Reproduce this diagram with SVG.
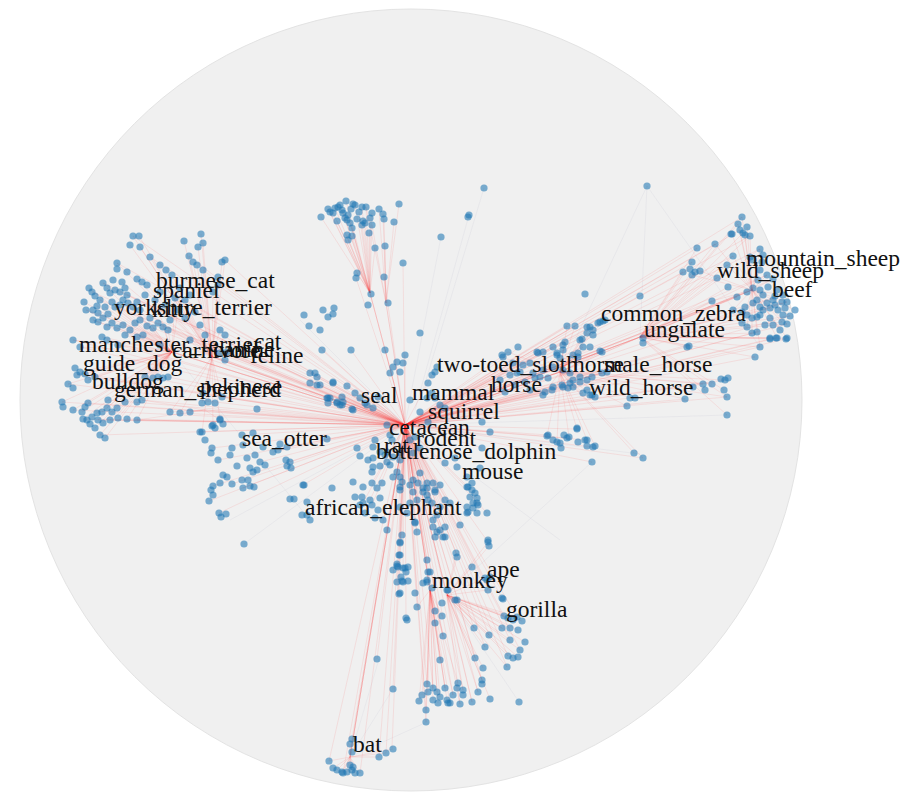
<svg xmlns="http://www.w3.org/2000/svg" width="900" height="800" viewBox="0 0 900 800">
<style>
.disk{fill:#f0f0f0;stroke:#e3e3e3;stroke-width:1}
.er path{stroke:#ff3030;stroke-opacity:.1;stroke-width:1;fill:none}
.eg path{stroke:#b0b0c8;stroke-opacity:.12;stroke-width:1;fill:none}
.pt circle{fill:#1f77b4;fill-opacity:.58;r:3.6px}
.lb text{font-family:"Liberation Serif","Times New Roman",serif;font-size:23.5px;fill:#111}
</style>
<rect width="900" height="800" fill="#ffffff"/>
<circle class="disk" cx="411" cy="400" r="391"/>
<g id="connectors">
<g class="eg">
<path d="M420 400L484 188"/><path d="M415 410L469 215"/><path d="M405 425L441 237"/><path d="M560 372L647 186"/><path d="M647 186L640 337"/><path d="M647 186L760 347"/><path d="M405 425L230 520"/><path d="M405 425L244 544"/><path d="M350 757L427 722"/><path d="M350 757L393 689"/><path d="M350 757L379 659"/><path d="M172 352L310 520"/><path d="M405 425L640 454"/><path d="M405 425L727 415"/><path d="M447 595L519 702"/><path d="M447 595L592 462"/><path d="M405 425L560 540"/><path d="M405 425L300 320"/>
</g>
<g class="er">
<path d="M405 425L172 352"/><path d="M405 425L172 352"/><path d="M405 425L172 352"/><path d="M405 425L172 352"/><path d="M405 425L212 357"/><path d="M405 425L212 357"/><path d="M405 425L212 357"/><path d="M405 425L205 410"/><path d="M405 425L205 410"/>
<path d="M405 425L100 300"/><path d="M405 425L86 310"/><path d="M405 425L120 292"/><path d="M405 425L140 320"/><path d="M405 425L168 330"/><path d="M405 425L73 340"/><path d="M405 425L80 347"/><path d="M405 425L62 402"/><path d="M405 425L83 419"/><path d="M405 425L100 435"/><path d="M405 425L110 420"/><path d="M405 425L137 420"/><path d="M405 425L145 377"/><path d="M405 425L168 377"/><path d="M405 425L95 377"/><path d="M405 425L77 375"/><path d="M405 425L117 263"/><path d="M405 425L150 257"/><path d="M405 425L103 283"/><path d="M405 425L127 295"/><path d="M405 425L93 320"/><path d="M405 425L123 325"/><path d="M405 425L153 328"/><path d="M405 425L107 340"/><path d="M405 425L218 285"/><path d="M405 425L220 330"/><path d="M405 425L225 360"/><path d="M405 425L222 397"/><path d="M405 425L202 432"/><path d="M405 425L133 236"/><path d="M405 425L189 256"/><path d="M405 425L203 270"/><path d="M405 425L225 260"/><path d="M405 425L92 292"/><path d="M405 425L115 307"/><path d="M405 425L137 302"/><path d="M405 425L158 323"/><path d="M405 425L68 384"/><path d="M405 425L88 403"/><path d="M405 425L127 419"/><path d="M405 425L180 413"/><path d="M405 425L73 410"/><path d="M405 425L98 420"/><path d="M405 425L160 292"/><path d="M405 425L185 300"/><path d="M405 425L200 325"/><path d="M405 425L190 340"/><path d="M405 425L118 345"/><path d="M405 425L142 400"/><path d="M405 425L108 400"/><path d="M405 425L85 374"/>
<path d="M172 352L86 310"/><path d="M172 352L93 320"/><path d="M172 352L98 313"/><path d="M172 352L105 307"/><path d="M172 352L112 302"/><path d="M172 352L115 307"/><path d="M172 352L120 305"/><path d="M172 352L128 303"/><path d="M172 352L133 307"/><path d="M172 352L140 310"/><path d="M172 352L100 300"/><path d="M172 352L97 306"/><path d="M172 352L73 340"/><path d="M172 352L80 347"/><path d="M172 352L102 337"/><path d="M172 352L107 340"/><path d="M172 352L77 375"/><path d="M172 352L80 372"/><path d="M172 352L85 374"/><path d="M172 352L88 380"/><path d="M172 352L95 377"/><path d="M172 352L145 377"/><path d="M172 352L153 378"/><path d="M172 352L68 384"/><path d="M172 352L62 402"/><path d="M172 352L73 410"/><path d="M172 352L82 412"/><path d="M172 352L88 403"/><path d="M172 352L83 419"/><path d="M172 352L92 417"/><path d="M172 352L102 412"/><path d="M172 352L107 408"/><path d="M172 352L98 420"/><path d="M172 352L95 428"/><path d="M172 352L103 423"/><path d="M172 352L110 420"/><path d="M172 352L118 418"/><path d="M172 352L127 419"/><path d="M172 352L137 420"/><path d="M172 352L100 435"/><path d="M172 352L105 438"/><path d="M172 352L125 335"/><path d="M172 352L137 337"/><path d="M172 352L143 335"/><path d="M172 352L117 328"/><path d="M172 352L130 330"/><path d="M172 352L153 328"/><path d="M172 352L163 327"/><path d="M172 352L168 330"/><path d="M172 352L89 288"/><path d="M172 352L107 288"/><path d="M172 352L123 300"/><path d="M172 352L155 300"/><path d="M172 352L175 298"/><path d="M172 352L178 310"/><path d="M172 352L84 302"/>
<path d="M212 357L133 236"/><path d="M212 357L139 236"/><path d="M212 357L130 245"/><path d="M212 357L140 247"/><path d="M212 357L184 241"/><path d="M212 357L201 234"/><path d="M212 357L203 243"/><path d="M212 357L198 247"/><path d="M212 357L150 257"/><path d="M212 357L160 265"/><path d="M212 357L166 270"/><path d="M212 357L172 275"/><path d="M212 357L189 256"/><path d="M212 357L193 262"/><path d="M212 357L197 265"/><path d="M212 357L203 270"/><path d="M212 357L222 262"/><path d="M212 357L225 260"/><path d="M212 357L218 277"/><path d="M212 357L218 285"/><path d="M212 357L213 292"/><path d="M212 357L220 330"/><path d="M212 357L225 335"/><path d="M212 357L220 353"/><path d="M212 357L225 360"/><path d="M212 357L227 352"/><path d="M212 357L170 412"/><path d="M212 357L180 413"/><path d="M212 357L202 403"/><path d="M212 357L203 393"/><path d="M212 357L208 402"/><path d="M212 357L220 420"/><path d="M212 357L213 425"/><path d="M212 357L202 432"/><path d="M212 357L222 397"/><path d="M212 357L117 263"/><path d="M212 357L103 283"/><path d="M212 357L122 282"/><path d="M212 357L137 279"/><path d="M212 357L147 285"/>
<path d="M205 410L170 412"/><path d="M205 410L190 412"/><path d="M205 410L142 400"/><path d="M205 410L137 420"/><path d="M205 410L220 420"/>
<path d="M405 425L560 372"/><path d="M405 425L560 372"/><path d="M405 425L560 372"/><path d="M405 425L560 372"/><path d="M405 425L560 372"/><path d="M405 425L640 337"/><path d="M405 425L640 337"/><path d="M405 425L640 337"/><path d="M405 425L640 337"/><path d="M405 425L640 337"/><path d="M405 425L752 290"/><path d="M405 425L752 290"/><path d="M405 425L752 290"/>
<path d="M405 425L567 326"/><path d="M405 425L575 326"/><path d="M405 425L590 327"/><path d="M405 425L603 321"/><path d="M405 425L565 342"/><path d="M405 425L583 347"/><path d="M405 425L602 352"/><path d="M405 425L557 353"/><path d="M405 425L573 355"/><path d="M405 425L553 367"/><path d="M405 425L570 373"/><path d="M405 425L587 380"/><path d="M405 425L563 387"/><path d="M405 425L583 393"/><path d="M405 425L595 397"/><path d="M405 425L607 372"/><path d="M405 425L543 395"/><path d="M405 425L685 399"/><path d="M405 425L703 384"/><path d="M405 425L725 380"/><path d="M405 425L727 397"/><path d="M405 425L689 346"/><path d="M405 425L755 357"/><path d="M405 425L770 339"/><path d="M405 425L786 339"/><path d="M405 425L742 217"/><path d="M405 425L740 230"/><path d="M405 425L750 236"/><path d="M405 425L715 244"/><path d="M405 425L697 248"/><path d="M405 425L733 256"/><path d="M405 425L717 278"/><path d="M405 425L692 262"/><path d="M405 425L683 272"/><path d="M405 425L712 301"/><path d="M405 425L737 297"/><path d="M405 425L760 249"/><path d="M405 425L767 275"/><path d="M405 425L783 295"/><path d="M405 425L787 302"/><path d="M405 425L790 316"/><path d="M405 425L787 324"/><path d="M405 425L757 332"/><path d="M405 425L760 347"/><path d="M405 425L777 338"/><path d="M405 425L538 353"/><path d="M405 425L553 347"/><path d="M405 425L562 385"/><path d="M405 425L580 382"/><path d="M405 425L592 395"/><path d="M405 425L630 398"/><path d="M405 425L627 406"/><path d="M405 425L548 435"/><path d="M405 425L567 438"/><path d="M405 425L593 447"/><path d="M405 425L592 462"/><path d="M405 425L643 458"/><path d="M405 425L577 429"/><path d="M405 425L587 440"/><path d="M405 425L520 347"/><path d="M405 425L508 352"/><path d="M405 425L530 363"/><path d="M405 425L545 392"/>
<path d="M640 337L742 217"/><path d="M640 337L738 224"/><path d="M640 337L743 233"/><path d="M640 337L750 236"/><path d="M640 337L733 256"/><path d="M640 337L727 265"/><path d="M640 337L717 278"/><path d="M640 337L697 248"/><path d="M640 337L715 244"/><path d="M640 337L692 262"/><path d="M640 337L683 272"/><path d="M640 337L700 271"/><path d="M640 337L712 301"/><path d="M640 337L728 287"/><path d="M640 337L737 297"/><path d="M640 337L760 249"/><path d="M640 337L767 275"/><path d="M640 337L773 279"/><path d="M640 337L783 295"/><path d="M640 337L787 302"/><path d="M640 337L790 316"/><path d="M640 337L787 324"/><path d="M640 337L782 322"/><path d="M640 337L770 308"/><path d="M640 337L757 317"/><path d="M640 337L752 333"/><path d="M640 337L760 347"/><path d="M640 337L770 338"/><path d="M640 337L787 338"/><path d="M640 337L755 357"/><path d="M640 337L786 339"/><path d="M640 337L776 338"/><path d="M640 337L689 346"/><path d="M640 337L687 347"/><path d="M640 337L727 397"/><path d="M640 337L727 415"/><path d="M640 337L724 390"/><path d="M640 337L705 390"/><path d="M640 337L752 290"/><path d="M640 337L752 290"/>
<path d="M752 290L742 217"/><path d="M752 290L738 224"/><path d="M752 290L740 230"/><path d="M752 290L747 227"/><path d="M752 290L750 236"/><path d="M752 290L745 235"/><path d="M752 290L732 234"/><path d="M752 290L715 244"/><path d="M752 290L733 256"/><path d="M752 290L727 265"/><path d="M752 290L760 249"/><path d="M752 290L762 262"/><path d="M752 290L760 270"/><path d="M752 290L767 275"/><path d="M752 290L773 279"/><path d="M752 290L783 295"/><path d="M752 290L787 302"/><path d="M752 290L790 316"/><path d="M752 290L787 324"/><path d="M752 290L782 322"/><path d="M752 290L777 338"/><path d="M752 290L787 338"/><path d="M752 290L760 347"/><path d="M752 290L742 323"/><path d="M752 290L747 327"/><path d="M752 290L752 333"/><path d="M752 290L757 332"/><path d="M752 290L733 310"/><path d="M752 290L712 301"/><path d="M752 290L700 271"/><path d="M752 290L692 275"/><path d="M752 290L795 310"/><path d="M752 290L780 330"/>
<path d="M560 372L567 326"/><path d="M560 372L575 326"/><path d="M560 372L590 327"/><path d="M560 372L593 330"/><path d="M560 372L598 323"/><path d="M560 372L603 321"/><path d="M560 372L587 333"/><path d="M560 372L580 340"/><path d="M560 372L565 342"/><path d="M560 372L583 347"/><path d="M560 372L602 352"/><path d="M560 372L557 353"/><path d="M560 372L573 355"/><path d="M560 372L553 367"/><path d="M560 372L570 373"/><path d="M560 372L573 380"/><path d="M560 372L580 377"/><path d="M560 372L592 377"/><path d="M560 372L563 387"/><path d="M560 372L568 388"/><path d="M560 372L583 393"/><path d="M560 372L595 397"/><path d="M560 372L602 373"/><path d="M560 372L607 372"/><path d="M560 372L543 395"/><path d="M560 372L630 398"/><path d="M560 372L627 406"/><path d="M560 372L685 399"/><path d="M560 372L703 384"/><path d="M560 372L712 384"/><path d="M560 372L725 380"/><path d="M560 372L727 397"/><path d="M560 372L577 429"/><path d="M560 372L547 436"/><path d="M560 372L557 442"/><path d="M560 372L569 437"/><path d="M560 372L587 440"/><path d="M560 372L595 446"/><path d="M560 372L634 453"/><path d="M560 372L643 458"/><path d="M560 372L508 352"/><path d="M560 372L503 358"/><path d="M560 372L537 352"/><path d="M560 372L563 350"/><path d="M560 372L578 353"/><path d="M560 372L600 351"/><path d="M560 372L640 337"/><path d="M560 372L640 337"/>
<path d="M405 425L370 293"/><path d="M405 425L370 293"/><path d="M405 425L370 293"/><path d="M405 425L386 303"/><path d="M405 425L386 303"/><path d="M405 425L403 263"/><path d="M405 425L384 277"/><path d="M405 425L356 278"/>
<path d="M370 293L321 217"/><path d="M370 293L330 212"/><path d="M370 293L335 208"/><path d="M370 293L340 205"/><path d="M370 293L343 213"/><path d="M370 293L346 201"/><path d="M370 293L348 215"/><path d="M370 293L350 223"/><path d="M370 293L352 228"/><path d="M370 293L347 235"/><path d="M370 293L352 236"/><path d="M370 293L355 205"/><path d="M370 293L359 212"/><path d="M370 293L362 207"/><path d="M370 293L366 207"/><path d="M370 293L337 221"/><path d="M370 293L362 225"/><path d="M370 293L365 223"/><path d="M370 293L370 218"/><path d="M370 293L372 213"/><path d="M370 293L369 233"/><path d="M370 293L375 248"/><path d="M370 293L357 273"/><path d="M370 293L348 240"/><path d="M370 293L328 209"/><path d="M370 293L333 213"/>
<path d="M386 303L379 209"/><path d="M386 303L383 214"/><path d="M386 303L384 219"/><path d="M386 303L385 246"/><path d="M386 303L394 222"/><path d="M386 303L399 204"/><path d="M386 303L372 225"/><path d="M386 303L366 207"/>
<path d="M405 425L430 590"/><path d="M405 425L430 590"/><path d="M405 425L430 590"/><path d="M405 425L447 595"/><path d="M405 425L447 595"/><path d="M405 425L447 595"/><path d="M405 425L350 757"/><path d="M405 425L350 757"/><path d="M405 425L350 757"/><path d="M405 425L350 757"/>
<path d="M405 425L393 689"/><path d="M405 425L427 684"/><path d="M405 425L433 688"/><path d="M405 425L445 688"/><path d="M405 425L453 695"/><path d="M405 425L463 690"/><path d="M405 425L460 704"/><path d="M405 425L472 702"/><path d="M405 425L426 710"/><path d="M405 425L426 722"/><path d="M405 425L482 680"/><path d="M405 425L478 692"/><path d="M405 425L440 660"/><path d="M405 425L475 658"/><path d="M405 425L507 667"/><path d="M405 425L508 656"/><path d="M405 425L520 650"/><path d="M405 425L510 640"/><path d="M405 425L504 616"/><path d="M405 425L517 617"/><path d="M405 425L485 647"/><path d="M405 425L489 635"/><path d="M405 425L474 628"/><path d="M405 425L443 636"/><path d="M405 425L435 611"/><path d="M405 425L406 618"/><path d="M405 425L417 607"/><path d="M405 425L399 594"/><path d="M405 425L397 582"/><path d="M405 425L403 568"/><path d="M405 425L427 560"/><path d="M405 425L456 553"/><path d="M405 425L488 542"/><path d="M405 425L400 543"/><path d="M405 425L413 480"/><path d="M405 425L400 490"/><path d="M405 425L437 515"/><path d="M405 425L415 523"/><path d="M405 425L445 537"/><path d="M405 425L387 530"/><path d="M405 425L402 535"/><path d="M405 425L472 567"/><path d="M405 425L488 590"/><path d="M405 425L502 598"/><path d="M405 425L377 659"/><path d="M405 425L352 739"/><path d="M405 425L329 761"/><path d="M405 425L343 773"/><path d="M405 425L360 773"/><path d="M405 425L386 753"/><path d="M405 425L392 748"/><path d="M405 425L379 757"/>
<path d="M430 590L426 710"/><path d="M430 590L427 684"/><path d="M430 590L433 688"/><path d="M430 590L437 692"/><path d="M430 590L440 697"/><path d="M430 590L445 688"/><path d="M430 590L447 700"/><path d="M430 590L433 700"/><path d="M430 590L438 703"/><path d="M430 590L422 695"/><path d="M430 590L419 701"/><path d="M430 590L428 692"/><path d="M430 590L450 703"/><path d="M430 590L453 695"/><path d="M430 590L458 683"/><path d="M430 590L426 722"/><path d="M430 590L440 660"/><path d="M430 590L435 611"/><path d="M430 590L443 636"/><path d="M430 590L435 623"/><path d="M430 590L442 616"/><path d="M430 590L417 607"/>
<path d="M447 595L504 616"/><path d="M447 595L508 618"/><path d="M447 595L513 620"/><path d="M447 595L517 617"/><path d="M447 595L522 621"/><path d="M447 595L502 628"/><path d="M447 595L510 628"/><path d="M447 595L518 630"/><path d="M447 595L510 640"/><path d="M447 595L525 642"/><path d="M447 595L520 650"/><path d="M447 595L508 656"/><path d="M447 595L513 658"/><path d="M447 595L518 657"/><path d="M447 595L507 667"/><path d="M447 595L475 658"/><path d="M447 595L483 668"/><path d="M447 595L485 647"/><path d="M447 595L489 635"/><path d="M447 595L474 628"/><path d="M447 595L482 680"/><path d="M447 595L478 692"/><path d="M447 595L490 699"/><path d="M447 595L463 690"/><path d="M447 595L460 704"/><path d="M447 595L472 702"/><path d="M447 595L488 590"/><path d="M447 595L485 578"/><path d="M447 595L488 542"/><path d="M447 595L489 546"/><path d="M447 595L472 567"/><path d="M447 595L456 553"/><path d="M447 595L457 557"/>
<path d="M350 757L352 739"/><path d="M350 757L350 744"/><path d="M350 757L352 752"/><path d="M350 757L329 761"/><path d="M350 757L333 768"/><path d="M350 757L337 770"/><path d="M350 757L342 772"/><path d="M350 757L347 772"/><path d="M350 757L352 770"/><path d="M350 757L355 773"/><path d="M350 757L360 773"/><path d="M350 757L343 773"/><path d="M350 757L350 765"/><path d="M350 757L379 757"/><path d="M350 757L386 753"/><path d="M350 757L393 749"/>
<path d="M405 425L257 409"/><path d="M405 425L242 435"/><path d="M405 425L212 448"/><path d="M405 425L218 460"/><path d="M405 425L232 484"/><path d="M405 425L243 488"/><path d="M405 425L209 501"/><path d="M405 425L213 486"/><path d="M405 425L290 462"/><path d="M405 425L273 452"/><path d="M405 425L287 447"/><path d="M405 425L219 513"/><path d="M405 425L303 485"/><path d="M405 425L327 439"/><path d="M405 425L260 462"/>
<path d="M405 425L322 350"/><path d="M405 425L351 350"/><path d="M405 425L310 373"/><path d="M405 425L333 382"/><path d="M405 425L342 397"/><path d="M405 425L385 350"/><path d="M405 425L405 355"/><path d="M405 425L432 375"/><path d="M405 425L372 483"/><path d="M405 425L363 503"/><path d="M405 425L370 500"/><path d="M405 425L372 505"/><path d="M405 425L417 532"/><path d="M405 425L443 537"/><path d="M405 425L460 525"/><path d="M405 425L487 513"/><path d="M405 425L482 448"/><path d="M405 425L490 432"/><path d="M405 425L468 487"/><path d="M405 425L477 498"/><path d="M405 425L310 383"/><path d="M405 425L347 386"/><path d="M405 425L367 405"/>
</g>
</g>
<g id="points" class="pt">
<circle cx="321" cy="217" r="3.3"/><circle cx="328" cy="209" r="3.3"/><circle cx="330" cy="212" r="3.3"/><circle cx="333" cy="213" r="3.3"/><circle cx="335" cy="208" r="3.3"/><circle cx="340" cy="205" r="3.3"/><circle cx="342" cy="210" r="3.3"/><circle cx="343" cy="213" r="3.3"/><circle cx="346" cy="201" r="3.3"/><circle cx="348" cy="215" r="3.3"/><circle cx="347" cy="220" r="3.3"/><circle cx="350" cy="223" r="3.3"/><circle cx="352" cy="228" r="3.3"/><circle cx="347" cy="235" r="3.3"/><circle cx="348" cy="240" r="3.3"/><circle cx="352" cy="236" r="3.3"/><circle cx="353" cy="204" r="3.3"/><circle cx="355" cy="205" r="3.3"/><circle cx="359" cy="212" r="3.3"/><circle cx="362" cy="207" r="3.3"/><circle cx="366" cy="207" r="3.3"/><circle cx="337" cy="221" r="3.3"/><circle cx="362" cy="225" r="3.3"/><circle cx="365" cy="223" r="3.3"/><circle cx="370" cy="218" r="3.3"/><circle cx="372" cy="213" r="3.3"/><circle cx="372" cy="225" r="3.3"/><circle cx="369" cy="233" r="3.3"/><circle cx="375" cy="248" r="3.3"/><circle cx="379" cy="209" r="3.3"/><circle cx="383" cy="214" r="3.3"/><circle cx="384" cy="219" r="3.3"/><circle cx="385" cy="246" r="3.3"/><circle cx="394" cy="222" r="3.3"/><circle cx="399" cy="204" r="3.3"/><circle cx="403" cy="263" r="3.3"/><circle cx="357" cy="273" r="3.3"/><circle cx="356" cy="278" r="3.3"/><circle cx="384" cy="277" r="3.3"/><circle cx="371" cy="294" r="3.3"/><circle cx="368" cy="305" r="3.3"/><circle cx="388" cy="303" r="3.3"/><circle cx="441" cy="237" r="3.3"/><circle cx="469" cy="215" r="3.3"/><circle cx="468" cy="217" r="3.3"/><circle cx="484" cy="188" r="3.3"/><circle cx="647" cy="186" r="3.3"/><circle cx="345" cy="218" r="3.3"/><circle cx="357" cy="219" r="3.3"/><circle cx="363" cy="221" r="3.3"/><circle cx="351" cy="209" r="3.3"/><circle cx="338" cy="207" r="3.3"/>
<circle cx="304" cy="315" r="3.3"/><circle cx="309" cy="326" r="3.3"/><circle cx="323" cy="310" r="3.3"/><circle cx="328" cy="317" r="3.3"/><circle cx="333" cy="314" r="3.3"/><circle cx="334" cy="308" r="3.3"/><circle cx="320" cy="330" r="3.3"/>
<circle cx="133" cy="236" r="3.3"/><circle cx="139" cy="236" r="3.3"/><circle cx="130" cy="245" r="3.3"/><circle cx="140" cy="247" r="3.3"/><circle cx="184" cy="241" r="3.3"/><circle cx="201" cy="234" r="3.3"/><circle cx="203" cy="243" r="3.3"/><circle cx="198" cy="247" r="3.3"/><circle cx="150" cy="257" r="3.3"/><circle cx="117" cy="263" r="3.3"/><circle cx="117" cy="269" r="3.3"/><circle cx="127" cy="272" r="3.3"/><circle cx="160" cy="265" r="3.3"/><circle cx="166" cy="270" r="3.3"/><circle cx="172" cy="275" r="3.3"/><circle cx="189" cy="256" r="3.3"/><circle cx="193" cy="262" r="3.3"/><circle cx="197" cy="265" r="3.3"/><circle cx="203" cy="270" r="3.3"/><circle cx="222" cy="262" r="3.3"/><circle cx="225" cy="260" r="3.3"/><circle cx="103" cy="283" r="3.3"/><circle cx="113" cy="280" r="3.3"/><circle cx="122" cy="282" r="3.3"/><circle cx="137" cy="279" r="3.3"/><circle cx="142" cy="282" r="3.3"/><circle cx="147" cy="285" r="3.3"/><circle cx="89" cy="288" r="3.3"/><circle cx="92" cy="292" r="3.3"/><circle cx="107" cy="288" r="3.3"/><circle cx="110" cy="293" r="3.3"/><circle cx="115" cy="290" r="3.3"/><circle cx="120" cy="292" r="3.3"/><circle cx="125" cy="288" r="3.3"/><circle cx="127" cy="295" r="3.3"/><circle cx="100" cy="300" r="3.3"/><circle cx="97" cy="306" r="3.3"/><circle cx="86" cy="310" r="3.3"/><circle cx="93" cy="310" r="3.3"/><circle cx="98" cy="313" r="3.3"/><circle cx="105" cy="307" r="3.3"/><circle cx="112" cy="302" r="3.3"/><circle cx="115" cy="307" r="3.3"/><circle cx="120" cy="305" r="3.3"/><circle cx="123" cy="300" r="3.3"/><circle cx="128" cy="303" r="3.3"/><circle cx="133" cy="307" r="3.3"/><circle cx="137" cy="302" r="3.3"/><circle cx="140" cy="310" r="3.3"/><circle cx="93" cy="320" r="3.3"/><circle cx="98" cy="322" r="3.3"/><circle cx="103" cy="318" r="3.3"/><circle cx="107" cy="327" r="3.3"/><circle cx="112" cy="323" r="3.3"/><circle cx="117" cy="328" r="3.3"/><circle cx="123" cy="325" r="3.3"/><circle cx="130" cy="330" r="3.3"/><circle cx="135" cy="323" r="3.3"/><circle cx="140" cy="320" r="3.3"/><circle cx="147" cy="326" r="3.3"/><circle cx="153" cy="328" r="3.3"/><circle cx="158" cy="323" r="3.3"/><circle cx="163" cy="327" r="3.3"/><circle cx="168" cy="330" r="3.3"/><circle cx="150" cy="318" r="3.3"/><circle cx="143" cy="335" r="3.3"/><circle cx="137" cy="337" r="3.3"/><circle cx="125" cy="335" r="3.3"/><circle cx="73" cy="340" r="3.3"/><circle cx="80" cy="347" r="3.3"/><circle cx="102" cy="337" r="3.3"/><circle cx="107" cy="340" r="3.3"/><circle cx="218" cy="277" r="3.3"/><circle cx="218" cy="285" r="3.3"/><circle cx="213" cy="292" r="3.3"/><circle cx="220" cy="330" r="3.3"/><circle cx="225" cy="335" r="3.3"/><circle cx="220" cy="353" r="3.3"/><circle cx="225" cy="360" r="3.3"/><circle cx="227" cy="352" r="3.3"/><circle cx="77" cy="375" r="3.3"/><circle cx="80" cy="372" r="3.3"/><circle cx="75" cy="368" r="3.3"/><circle cx="85" cy="374" r="3.3"/><circle cx="88" cy="380" r="3.3"/><circle cx="95" cy="377" r="3.3"/><circle cx="145" cy="377" r="3.3"/><circle cx="153" cy="378" r="3.3"/><circle cx="158" cy="377" r="3.3"/><circle cx="163" cy="378" r="3.3"/><circle cx="168" cy="377" r="3.3"/><circle cx="68" cy="384" r="3.3"/><circle cx="73" cy="388" r="3.3"/><circle cx="62" cy="402" r="3.3"/><circle cx="63" cy="407" r="3.3"/><circle cx="73" cy="410" r="3.3"/><circle cx="82" cy="412" r="3.3"/><circle cx="85" cy="407" r="3.3"/><circle cx="88" cy="403" r="3.3"/><circle cx="83" cy="419" r="3.3"/><circle cx="87" cy="420" r="3.3"/><circle cx="92" cy="417" r="3.3"/><circle cx="97" cy="413" r="3.3"/><circle cx="102" cy="412" r="3.3"/><circle cx="107" cy="408" r="3.3"/><circle cx="112" cy="412" r="3.3"/><circle cx="98" cy="420" r="3.3"/><circle cx="90" cy="424" r="3.3"/><circle cx="95" cy="428" r="3.3"/><circle cx="103" cy="423" r="3.3"/><circle cx="110" cy="420" r="3.3"/><circle cx="118" cy="418" r="3.3"/><circle cx="127" cy="419" r="3.3"/><circle cx="137" cy="420" r="3.3"/><circle cx="108" cy="400" r="3.3"/><circle cx="117" cy="408" r="3.3"/><circle cx="125" cy="402" r="3.3"/><circle cx="137" cy="402" r="3.3"/><circle cx="142" cy="400" r="3.3"/><circle cx="170" cy="412" r="3.3"/><circle cx="180" cy="413" r="3.3"/><circle cx="202" cy="403" r="3.3"/><circle cx="203" cy="393" r="3.3"/><circle cx="208" cy="402" r="3.3"/><circle cx="220" cy="420" r="3.3"/><circle cx="213" cy="425" r="3.3"/><circle cx="202" cy="432" r="3.3"/><circle cx="100" cy="435" r="3.3"/><circle cx="105" cy="438" r="3.3"/><circle cx="222" cy="397" r="3.3"/><circle cx="190" cy="412" r="3.3"/><circle cx="215" cy="403" r="3.3"/><circle cx="310" cy="373" r="3.3"/><circle cx="317" cy="377" r="3.3"/><circle cx="320" cy="385" r="3.3"/><circle cx="330" cy="398" r="3.3"/><circle cx="328" cy="403" r="3.3"/><circle cx="337" cy="403" r="3.3"/><circle cx="155" cy="300" r="3.3"/><circle cx="160" cy="292" r="3.3"/><circle cx="145" cy="295" r="3.3"/><circle cx="165" cy="305" r="3.3"/><circle cx="175" cy="298" r="3.3"/><circle cx="180" cy="288" r="3.3"/><circle cx="185" cy="300" r="3.3"/><circle cx="190" cy="295" r="3.3"/><circle cx="178" cy="310" r="3.3"/><circle cx="170" cy="320" r="3.3"/><circle cx="185" cy="318" r="3.3"/><circle cx="195" cy="312" r="3.3"/><circle cx="200" cy="325" r="3.3"/><circle cx="205" cy="335" r="3.3"/><circle cx="190" cy="340" r="3.3"/><circle cx="160" cy="345" r="3.3"/><circle cx="118" cy="345" r="3.3"/><circle cx="95" cy="296" r="3.3"/><circle cx="108" cy="314" r="3.3"/><circle cx="84" cy="302" r="3.3"/>
<circle cx="257" cy="409" r="3.3"/><circle cx="220" cy="419" r="3.3"/><circle cx="223" cy="424" r="3.3"/><circle cx="212" cy="426" r="3.3"/><circle cx="215" cy="428" r="3.3"/><circle cx="200" cy="432" r="3.3"/><circle cx="205" cy="440" r="3.3"/><circle cx="212" cy="448" r="3.3"/><circle cx="211" cy="453" r="3.3"/><circle cx="218" cy="460" r="3.3"/><circle cx="232" cy="448" r="3.3"/><circle cx="230" cy="455" r="3.3"/><circle cx="237" cy="466" r="3.3"/><circle cx="242" cy="435" r="3.3"/><circle cx="243" cy="445" r="3.3"/><circle cx="247" cy="458" r="3.3"/><circle cx="253" cy="433" r="3.3"/><circle cx="255" cy="455" r="3.3"/><circle cx="260" cy="462" r="3.3"/><circle cx="263" cy="447" r="3.3"/><circle cx="250" cy="468" r="3.3"/><circle cx="253" cy="472" r="3.3"/><circle cx="257" cy="470" r="3.3"/><circle cx="265" cy="465" r="3.3"/><circle cx="273" cy="452" r="3.3"/><circle cx="278" cy="450" r="3.3"/><circle cx="280" cy="444" r="3.3"/><circle cx="287" cy="447" r="3.3"/><circle cx="286" cy="460" r="3.3"/><circle cx="290" cy="462" r="3.3"/><circle cx="287" cy="466" r="3.3"/><circle cx="291" cy="468" r="3.3"/><circle cx="327" cy="439" r="3.3"/><circle cx="223" cy="475" r="3.3"/><circle cx="227" cy="477" r="3.3"/><circle cx="220" cy="483" r="3.3"/><circle cx="232" cy="484" r="3.3"/><circle cx="242" cy="480" r="3.3"/><circle cx="248" cy="480" r="3.3"/><circle cx="243" cy="488" r="3.3"/><circle cx="250" cy="486" r="3.3"/><circle cx="254" cy="487" r="3.3"/><circle cx="213" cy="486" r="3.3"/><circle cx="211" cy="490" r="3.3"/><circle cx="213" cy="495" r="3.3"/><circle cx="209" cy="501" r="3.3"/><circle cx="303" cy="485" r="3.3"/><circle cx="332" cy="488" r="3.3"/><circle cx="290" cy="499" r="3.3"/><circle cx="294" cy="499" r="3.3"/><circle cx="307" cy="502" r="3.3"/><circle cx="302" cy="515" r="3.3"/><circle cx="307" cy="515" r="3.3"/><circle cx="310" cy="520" r="3.3"/><circle cx="219" cy="513" r="3.3"/><circle cx="221" cy="517" r="3.3"/><circle cx="226" cy="514" r="3.3"/><circle cx="244" cy="544" r="3.3"/><circle cx="310" cy="383" r="3.3"/><circle cx="317" cy="385" r="3.3"/><circle cx="333" cy="383" r="3.3"/><circle cx="347" cy="386" r="3.3"/><circle cx="327" cy="398" r="3.3"/><circle cx="337" cy="402" r="3.3"/><circle cx="342" cy="405" r="3.3"/><circle cx="352" cy="409" r="3.3"/><circle cx="355" cy="393" r="3.3"/><circle cx="367" cy="405" r="3.3"/><circle cx="373" cy="408" r="3.3"/>
<circle cx="322" cy="350" r="3.3"/><circle cx="351" cy="350" r="3.3"/><circle cx="385" cy="350" r="3.3"/><circle cx="405" cy="355" r="3.3"/><circle cx="397" cy="362" r="3.3"/><circle cx="403" cy="363" r="3.3"/><circle cx="400" cy="372" r="3.3"/><circle cx="393" cy="367" r="3.3"/><circle cx="390" cy="373" r="3.3"/><circle cx="432" cy="375" r="3.3"/><circle cx="435" cy="372" r="3.3"/><circle cx="437" cy="367" r="3.3"/><circle cx="315" cy="373" r="3.3"/><circle cx="333" cy="382" r="3.3"/><circle cx="342" cy="397" r="3.3"/><circle cx="343" cy="402" r="3.3"/><circle cx="353" cy="410" r="3.3"/><circle cx="340" cy="405" r="3.3"/><circle cx="328" cy="398" r="3.3"/><circle cx="360" cy="398" r="3.3"/><circle cx="365" cy="403" r="3.3"/><circle cx="378" cy="397" r="3.3"/><circle cx="410" cy="400" r="3.3"/><circle cx="428" cy="383" r="3.3"/><circle cx="432" cy="393" r="3.3"/><circle cx="427" cy="398" r="3.3"/><circle cx="435" cy="398" r="3.3"/><circle cx="440" cy="405" r="3.3"/><circle cx="445" cy="408" r="3.3"/><circle cx="420" cy="412" r="3.3"/><circle cx="428" cy="422" r="3.3"/><circle cx="415" cy="437" r="3.3"/><circle cx="410" cy="440" r="3.3"/><circle cx="420" cy="448" r="3.3"/><circle cx="413" cy="453" r="3.3"/><circle cx="387" cy="425" r="3.3"/><circle cx="390" cy="435" r="3.3"/><circle cx="392" cy="440" r="3.3"/><circle cx="375" cy="440" r="3.3"/><circle cx="373" cy="447" r="3.3"/><circle cx="380" cy="452" r="3.3"/><circle cx="385" cy="455" r="3.3"/><circle cx="393" cy="457" r="3.3"/><circle cx="400" cy="460" r="3.3"/><circle cx="373" cy="458" r="3.3"/><circle cx="368" cy="460" r="3.3"/><circle cx="373" cy="467" r="3.3"/><circle cx="380" cy="466" r="3.3"/><circle cx="387" cy="462" r="3.3"/><circle cx="390" cy="465" r="3.3"/><circle cx="397" cy="472" r="3.3"/><circle cx="393" cy="477" r="3.3"/><circle cx="400" cy="477" r="3.3"/><circle cx="372" cy="472" r="3.3"/><circle cx="372" cy="483" r="3.3"/><circle cx="382" cy="483" r="3.3"/><circle cx="377" cy="488" r="3.3"/><circle cx="363" cy="487" r="3.3"/><circle cx="360" cy="456" r="3.3"/><circle cx="357" cy="448" r="3.3"/><circle cx="304" cy="485" r="3.3"/><circle cx="353" cy="482" r="3.3"/><circle cx="355" cy="497" r="3.3"/><circle cx="362" cy="497" r="3.3"/><circle cx="363" cy="503" r="3.3"/><circle cx="400" cy="487" r="3.3"/><circle cx="410" cy="485" r="3.3"/><circle cx="418" cy="483" r="3.3"/><circle cx="423" cy="488" r="3.3"/><circle cx="433" cy="483" r="3.3"/><circle cx="427" cy="495" r="3.3"/><circle cx="435" cy="492" r="3.3"/><circle cx="428" cy="500" r="3.3"/><circle cx="440" cy="507" r="3.3"/><circle cx="417" cy="500" r="3.3"/><circle cx="410" cy="503" r="3.3"/><circle cx="400" cy="507" r="3.3"/><circle cx="407" cy="513" r="3.3"/><circle cx="415" cy="522" r="3.3"/><circle cx="433" cy="520" r="3.3"/><circle cx="417" cy="532" r="3.3"/><circle cx="443" cy="537" r="3.3"/><circle cx="460" cy="525" r="3.3"/><circle cx="467" cy="513" r="3.3"/><circle cx="473" cy="508" r="3.3"/><circle cx="477" cy="503" r="3.3"/><circle cx="487" cy="513" r="3.3"/><circle cx="457" cy="467" r="3.3"/><circle cx="455" cy="458" r="3.3"/><circle cx="480" cy="468" r="3.3"/><circle cx="467" cy="477" r="3.3"/><circle cx="472" cy="483" r="3.3"/><circle cx="467" cy="487" r="3.3"/><circle cx="482" cy="448" r="3.3"/><circle cx="490" cy="432" r="3.3"/><circle cx="482" cy="422" r="3.3"/>
<circle cx="518" cy="347" r="3.3"/><circle cx="503" cy="357" r="3.3"/><circle cx="513" cy="363" r="3.3"/><circle cx="517" cy="373" r="3.3"/><circle cx="523" cy="365" r="3.3"/><circle cx="530" cy="363" r="3.3"/><circle cx="533" cy="373" r="3.3"/><circle cx="540" cy="377" r="3.3"/><circle cx="543" cy="370" r="3.3"/><circle cx="538" cy="353" r="3.3"/><circle cx="553" cy="347" r="3.3"/><circle cx="545" cy="392" r="3.3"/><circle cx="553" cy="387" r="3.3"/><circle cx="562" cy="385" r="3.3"/><circle cx="570" cy="383" r="3.3"/><circle cx="580" cy="382" r="3.3"/><circle cx="587" cy="390" r="3.3"/><circle cx="592" cy="395" r="3.3"/><circle cx="548" cy="435" r="3.3"/><circle cx="553" cy="440" r="3.3"/><circle cx="560" cy="443" r="3.3"/><circle cx="567" cy="438" r="3.3"/><circle cx="577" cy="428" r="3.3"/><circle cx="578" cy="442" r="3.3"/><circle cx="585" cy="440" r="3.3"/><circle cx="593" cy="447" r="3.3"/><circle cx="592" cy="462" r="3.3"/>
<circle cx="567" cy="326" r="3.3"/><circle cx="575" cy="326" r="3.3"/><circle cx="590" cy="327" r="3.3"/><circle cx="593" cy="330" r="3.3"/><circle cx="598" cy="323" r="3.3"/><circle cx="603" cy="321" r="3.3"/><circle cx="587" cy="333" r="3.3"/><circle cx="593" cy="335" r="3.3"/><circle cx="580" cy="340" r="3.3"/><circle cx="565" cy="342" r="3.3"/><circle cx="563" cy="345" r="3.3"/><circle cx="583" cy="347" r="3.3"/><circle cx="590" cy="347" r="3.3"/><circle cx="602" cy="352" r="3.3"/><circle cx="557" cy="353" r="3.3"/><circle cx="560" cy="358" r="3.3"/><circle cx="573" cy="355" r="3.3"/><circle cx="578" cy="357" r="3.3"/><circle cx="553" cy="367" r="3.3"/><circle cx="563" cy="370" r="3.3"/><circle cx="570" cy="373" r="3.3"/><circle cx="573" cy="380" r="3.3"/><circle cx="580" cy="377" r="3.3"/><circle cx="587" cy="380" r="3.3"/><circle cx="592" cy="377" r="3.3"/><circle cx="563" cy="387" r="3.3"/><circle cx="568" cy="388" r="3.3"/><circle cx="573" cy="387" r="3.3"/><circle cx="583" cy="393" r="3.3"/><circle cx="590" cy="395" r="3.3"/><circle cx="595" cy="397" r="3.3"/><circle cx="602" cy="373" r="3.3"/><circle cx="607" cy="372" r="3.3"/><circle cx="552" cy="390" r="3.3"/><circle cx="543" cy="395" r="3.3"/><circle cx="630" cy="398" r="3.3"/><circle cx="635" cy="398" r="3.3"/><circle cx="627" cy="406" r="3.3"/><circle cx="685" cy="399" r="3.3"/><circle cx="693" cy="387" r="3.3"/><circle cx="703" cy="384" r="3.3"/><circle cx="705" cy="390" r="3.3"/><circle cx="712" cy="384" r="3.3"/><circle cx="721" cy="379" r="3.3"/><circle cx="725" cy="380" r="3.3"/><circle cx="728" cy="378" r="3.3"/><circle cx="724" cy="390" r="3.3"/><circle cx="727" cy="397" r="3.3"/><circle cx="727" cy="415" r="3.3"/><circle cx="689" cy="346" r="3.3"/><circle cx="755" cy="357" r="3.3"/><circle cx="760" cy="347" r="3.3"/><circle cx="770" cy="339" r="3.3"/><circle cx="776" cy="338" r="3.3"/><circle cx="786" cy="339" r="3.3"/><circle cx="577" cy="429" r="3.3"/><circle cx="547" cy="436" r="3.3"/><circle cx="557" cy="442" r="3.3"/><circle cx="561" cy="448" r="3.3"/><circle cx="564" cy="435" r="3.3"/><circle cx="569" cy="437" r="3.3"/><circle cx="587" cy="440" r="3.3"/><circle cx="587" cy="446" r="3.3"/><circle cx="595" cy="446" r="3.3"/><circle cx="634" cy="453" r="3.3"/><circle cx="643" cy="458" r="3.3"/><circle cx="508" cy="352" r="3.3"/><circle cx="502" cy="355" r="3.3"/><circle cx="537" cy="352" r="3.3"/><circle cx="543" cy="352" r="3.3"/><circle cx="557" cy="355" r="3.3"/><circle cx="563" cy="350" r="3.3"/><circle cx="578" cy="353" r="3.3"/><circle cx="600" cy="351" r="3.3"/><circle cx="582" cy="339" r="3.3"/><circle cx="643" cy="338" r="3.3"/><circle cx="643" cy="343" r="3.3"/><circle cx="605" cy="320" r="3.3"/><circle cx="600" cy="322" r="3.3"/><circle cx="420" cy="333" r="3.3"/><circle cx="585" cy="294" r="3.3"/><circle cx="640" cy="296" r="3.3"/><circle cx="500" cy="380" r="3.3"/><circle cx="510" cy="375" r="3.3"/><circle cx="520" cy="372" r="3.3"/><circle cx="515" cy="385" r="3.3"/><circle cx="525" cy="382" r="3.3"/><circle cx="535" cy="378" r="3.3"/><circle cx="530" cy="390" r="3.3"/><circle cx="548" cy="378" r="3.3"/><circle cx="505" cy="392" r="3.3"/>
<circle cx="742" cy="217" r="3.3"/><circle cx="738" cy="224" r="3.3"/><circle cx="740" cy="230" r="3.3"/><circle cx="743" cy="233" r="3.3"/><circle cx="747" cy="227" r="3.3"/><circle cx="750" cy="236" r="3.3"/><circle cx="745" cy="235" r="3.3"/><circle cx="732" cy="234" r="3.3"/><circle cx="715" cy="244" r="3.3"/><circle cx="697" cy="248" r="3.3"/><circle cx="733" cy="256" r="3.3"/><circle cx="727" cy="265" r="3.3"/><circle cx="717" cy="278" r="3.3"/><circle cx="692" cy="262" r="3.3"/><circle cx="683" cy="272" r="3.3"/><circle cx="690" cy="269" r="3.3"/><circle cx="695" cy="272" r="3.3"/><circle cx="700" cy="271" r="3.3"/><circle cx="692" cy="275" r="3.3"/><circle cx="712" cy="301" r="3.3"/><circle cx="728" cy="287" r="3.3"/><circle cx="737" cy="297" r="3.3"/><circle cx="750" cy="257" r="3.3"/><circle cx="753" cy="260" r="3.3"/><circle cx="760" cy="249" r="3.3"/><circle cx="762" cy="262" r="3.3"/><circle cx="760" cy="270" r="3.3"/><circle cx="767" cy="275" r="3.3"/><circle cx="773" cy="279" r="3.3"/><circle cx="758" cy="280" r="3.3"/><circle cx="747" cy="292" r="3.3"/><circle cx="753" cy="288" r="3.3"/><circle cx="760" cy="290" r="3.3"/><circle cx="763" cy="295" r="3.3"/><circle cx="768" cy="287" r="3.3"/><circle cx="777" cy="290" r="3.3"/><circle cx="783" cy="295" r="3.3"/><circle cx="787" cy="302" r="3.3"/><circle cx="782" cy="302" r="3.3"/><circle cx="773" cy="300" r="3.3"/><circle cx="767" cy="303" r="3.3"/><circle cx="760" cy="307" r="3.3"/><circle cx="753" cy="303" r="3.3"/><circle cx="745" cy="307" r="3.3"/><circle cx="742" cy="312" r="3.3"/><circle cx="747" cy="315" r="3.3"/><circle cx="752" cy="318" r="3.3"/><circle cx="757" cy="317" r="3.3"/><circle cx="763" cy="310" r="3.3"/><circle cx="770" cy="308" r="3.3"/><circle cx="778" cy="310" r="3.3"/><circle cx="783" cy="315" r="3.3"/><circle cx="790" cy="316" r="3.3"/><circle cx="782" cy="322" r="3.3"/><circle cx="787" cy="324" r="3.3"/><circle cx="733" cy="310" r="3.3"/><circle cx="742" cy="323" r="3.3"/><circle cx="747" cy="327" r="3.3"/><circle cx="752" cy="333" r="3.3"/><circle cx="757" cy="332" r="3.3"/><circle cx="770" cy="338" r="3.3"/><circle cx="777" cy="338" r="3.3"/><circle cx="787" cy="338" r="3.3"/><circle cx="687" cy="347" r="3.3"/><circle cx="587" cy="327" r="3.3"/><circle cx="731" cy="234" r="3.3"/><circle cx="763" cy="255" r="3.3"/><circle cx="775" cy="296" r="3.3"/><circle cx="770" cy="318" r="3.3"/><circle cx="765" cy="325" r="3.3"/><circle cx="773" cy="325" r="3.3"/><circle cx="780" cy="330" r="3.3"/><circle cx="775" cy="305" r="3.3"/><circle cx="785" cy="308" r="3.3"/><circle cx="795" cy="310" r="3.3"/><circle cx="757" cy="300" r="3.3"/><circle cx="760" cy="315" r="3.3"/>
<circle cx="400" cy="543" r="3.3"/><circle cx="399" cy="555" r="3.3"/><circle cx="427" cy="560" r="3.3"/><circle cx="456" cy="553" r="3.3"/><circle cx="457" cy="557" r="3.3"/><circle cx="472" cy="567" r="3.3"/><circle cx="488" cy="542" r="3.3"/><circle cx="489" cy="546" r="3.3"/><circle cx="397" cy="564" r="3.3"/><circle cx="398" cy="567" r="3.3"/><circle cx="403" cy="568" r="3.3"/><circle cx="406" cy="572" r="3.3"/><circle cx="408" cy="567" r="3.3"/><circle cx="428" cy="572" r="3.3"/><circle cx="397" cy="582" r="3.3"/><circle cx="402" cy="581" r="3.3"/><circle cx="408" cy="581" r="3.3"/><circle cx="423" cy="583" r="3.3"/><circle cx="427" cy="580" r="3.3"/><circle cx="432" cy="588" r="3.3"/><circle cx="447" cy="590" r="3.3"/><circle cx="455" cy="600" r="3.3"/><circle cx="485" cy="578" r="3.3"/><circle cx="488" cy="590" r="3.3"/><circle cx="502" cy="598" r="3.3"/><circle cx="399" cy="594" r="3.3"/><circle cx="415" cy="593" r="3.3"/><circle cx="417" cy="607" r="3.3"/><circle cx="406" cy="618" r="3.3"/><circle cx="407" cy="620" r="3.3"/><circle cx="435" cy="611" r="3.3"/><circle cx="442" cy="616" r="3.3"/><circle cx="435" cy="623" r="3.3"/><circle cx="443" cy="636" r="3.3"/><circle cx="474" cy="628" r="3.3"/><circle cx="489" cy="635" r="3.3"/><circle cx="485" cy="647" r="3.3"/><circle cx="504" cy="616" r="3.3"/><circle cx="508" cy="618" r="3.3"/><circle cx="513" cy="620" r="3.3"/><circle cx="517" cy="617" r="3.3"/><circle cx="522" cy="621" r="3.3"/><circle cx="502" cy="628" r="3.3"/><circle cx="510" cy="628" r="3.3"/><circle cx="518" cy="630" r="3.3"/><circle cx="510" cy="640" r="3.3"/><circle cx="525" cy="642" r="3.3"/><circle cx="520" cy="650" r="3.3"/><circle cx="508" cy="656" r="3.3"/><circle cx="513" cy="658" r="3.3"/><circle cx="518" cy="657" r="3.3"/><circle cx="507" cy="667" r="3.3"/><circle cx="475" cy="658" r="3.3"/><circle cx="483" cy="668" r="3.3"/><circle cx="440" cy="660" r="3.3"/><circle cx="377" cy="659" r="3.3"/><circle cx="393" cy="689" r="3.3"/><circle cx="482" cy="680" r="3.3"/><circle cx="482" cy="684" r="3.3"/><circle cx="478" cy="692" r="3.3"/><circle cx="490" cy="699" r="3.3"/><circle cx="519" cy="702" r="3.3"/><circle cx="427" cy="684" r="3.3"/><circle cx="422" cy="695" r="3.3"/><circle cx="419" cy="701" r="3.3"/><circle cx="428" cy="692" r="3.3"/><circle cx="433" cy="688" r="3.3"/><circle cx="437" cy="692" r="3.3"/><circle cx="440" cy="697" r="3.3"/><circle cx="445" cy="688" r="3.3"/><circle cx="447" cy="700" r="3.3"/><circle cx="450" cy="703" r="3.3"/><circle cx="453" cy="695" r="3.3"/><circle cx="458" cy="683" r="3.3"/><circle cx="457" cy="688" r="3.3"/><circle cx="463" cy="690" r="3.3"/><circle cx="463" cy="695" r="3.3"/><circle cx="460" cy="704" r="3.3"/><circle cx="472" cy="702" r="3.3"/><circle cx="433" cy="700" r="3.3"/><circle cx="438" cy="703" r="3.3"/><circle cx="426" cy="710" r="3.3"/><circle cx="426" cy="722" r="3.3"/><circle cx="448" cy="703" r="3.3"/><circle cx="393" cy="749" r="3.3"/><circle cx="379" cy="757" r="3.3"/><circle cx="386" cy="753" r="3.3"/><circle cx="352" cy="739" r="3.3"/><circle cx="350" cy="744" r="3.3"/><circle cx="352" cy="752" r="3.3"/><circle cx="329" cy="761" r="3.3"/><circle cx="333" cy="768" r="3.3"/><circle cx="337" cy="770" r="3.3"/><circle cx="342" cy="772" r="3.3"/><circle cx="347" cy="772" r="3.3"/><circle cx="352" cy="770" r="3.3"/><circle cx="355" cy="773" r="3.3"/><circle cx="360" cy="773" r="3.3"/><circle cx="343" cy="773" r="3.3"/><circle cx="350" cy="765" r="3.3"/><circle cx="353" cy="767" r="3.3"/>
<circle cx="400" cy="453" r="3.3"/><circle cx="387" cy="452" r="3.3"/><circle cx="445" cy="463" r="3.3"/><circle cx="468" cy="487" r="3.3"/><circle cx="472" cy="490" r="3.3"/><circle cx="475" cy="493" r="3.3"/><circle cx="477" cy="498" r="3.3"/><circle cx="470" cy="497" r="3.3"/><circle cx="473" cy="503" r="3.3"/><circle cx="467" cy="507" r="3.3"/><circle cx="478" cy="505" r="3.3"/><circle cx="468" cy="512" r="3.3"/><circle cx="477" cy="513" r="3.3"/><circle cx="420" cy="473" r="3.3"/><circle cx="413" cy="480" r="3.3"/><circle cx="402" cy="482" r="3.3"/><circle cx="427" cy="483" r="3.3"/><circle cx="427" cy="488" r="3.3"/><circle cx="435" cy="490" r="3.3"/><circle cx="440" cy="485" r="3.3"/><circle cx="413" cy="492" r="3.3"/><circle cx="400" cy="490" r="3.3"/><circle cx="423" cy="492" r="3.3"/><circle cx="432" cy="503" r="3.3"/><circle cx="445" cy="500" r="3.3"/><circle cx="450" cy="503" r="3.3"/><circle cx="437" cy="515" r="3.3"/><circle cx="415" cy="523" r="3.3"/><circle cx="433" cy="527" r="3.3"/><circle cx="437" cy="532" r="3.3"/><circle cx="440" cy="530" r="3.3"/><circle cx="445" cy="527" r="3.3"/><circle cx="435" cy="537" r="3.3"/><circle cx="445" cy="537" r="3.3"/><circle cx="387" cy="530" r="3.3"/><circle cx="402" cy="535" r="3.3"/><circle cx="400" cy="542" r="3.3"/><circle cx="488" cy="540" r="3.3"/><circle cx="400" cy="555" r="3.3"/><circle cx="397" cy="566" r="3.3"/><circle cx="405" cy="568" r="3.3"/><circle cx="393" cy="570" r="3.3"/><circle cx="401" cy="577" r="3.3"/><circle cx="403" cy="582" r="3.3"/><circle cx="427" cy="582" r="3.3"/><circle cx="430" cy="572" r="3.3"/><circle cx="490" cy="577" r="3.3"/><circle cx="487" cy="580" r="3.3"/><circle cx="448" cy="590" r="3.3"/><circle cx="457" cy="600" r="3.3"/><circle cx="442" cy="603" r="3.3"/><circle cx="503" cy="599" r="3.3"/><circle cx="400" cy="593" r="3.3"/><circle cx="372" cy="505" r="3.3"/><circle cx="378" cy="510" r="3.3"/><circle cx="365" cy="513" r="3.3"/><circle cx="383" cy="520" r="3.3"/><circle cx="370" cy="500" r="3.3"/><circle cx="360" cy="505" r="3.3"/><circle cx="380" cy="498" r="3.3"/><circle cx="375" cy="518" r="3.3"/>
</g>
<g id="labels" class="lb">
<g id="node-burmese_cat"><text x="156" y="288">burmese_cat</text></g>
<g id="node-spaniel"><text x="153" y="298">spaniel</text></g>
<g id="node-yorkshire_terrier"><text x="114" y="315">yorkshire_terrier</text></g>
<g id="node-kitty"><text x="152" y="317">kitty</text></g>
<g id="node-manchester_terrier"><text x="79" y="352" textLength="182">manchester_terrier</text></g>
<g id="node-cat"><text x="254" y="349">cat</text></g>
<g id="node-carnivore"><text x="172" y="358">carnivore</text></g>
<g id="node-canine"><text x="213" y="357">canine</text></g>
<g id="node-feline"><text x="250" y="363">feline</text></g>
<g id="node-guide_dog"><text x="83" y="371">guide_dog</text></g>
<g id="node-bulldog"><text x="92" y="389">bulldog</text></g>
<g id="node-pekinese"><text x="200" y="394">pekinese</text></g>
<g id="node-german_shepherd"><text x="114" y="397">german_shepherd</text></g>
<g id="node-seal"><text x="361" y="403">seal</text></g>
<g id="node-mammal"><text x="412" y="400">mammal</text></g>
<g id="node-two-toed_sloth"><text x="437" y="372">two-toed_sloth</text></g>
<g id="node-horse-1"><text x="573" y="372">horse</text></g>
<g id="node-horse-2"><text x="491" y="392">horse</text></g>
<g id="node-squirrel"><text x="428" y="419">squirrel</text></g>
<g id="node-cetacean"><text x="389" y="435">cetacean</text></g>
<g id="node-rodent"><text x="416" y="446">rodent</text></g>
<g id="node-rat"><text x="384" y="453">rat</text></g>
<g id="node-bottlenose_dolphin"><text x="376" y="459">bottlenose_dolphin</text></g>
<g id="node-mouse"><text x="462" y="479">mouse</text></g>
<g id="node-african_elephant"><text x="305" y="515">african_elephant</text></g>
<g id="node-sea_otter"><text x="242" y="446">sea_otter</text></g>
<g id="node-common_zebra"><text x="601" y="321">common_zebra</text></g>
<g id="node-ungulate"><text x="644" y="337">ungulate</text></g>
<g id="node-male_horse"><text x="604" y="372">male_horse</text></g>
<g id="node-wild_horse"><text x="589" y="395">wild_horse</text></g>
<g id="node-mountain_sheep"><text x="746" y="266">mountain_sheep</text></g>
<g id="node-wild_sheep"><text x="717" y="278">wild_sheep</text></g>
<g id="node-beef"><text x="772" y="297">beef</text></g>
<g id="node-ape"><text x="487" y="577">ape</text></g>
<g id="node-monkey"><text x="432" y="588">monkey</text></g>
<g id="node-gorilla"><text x="506" y="617">gorilla</text></g>
<g id="node-bat"><text x="353" y="752">bat</text></g>
</g>
</svg>
